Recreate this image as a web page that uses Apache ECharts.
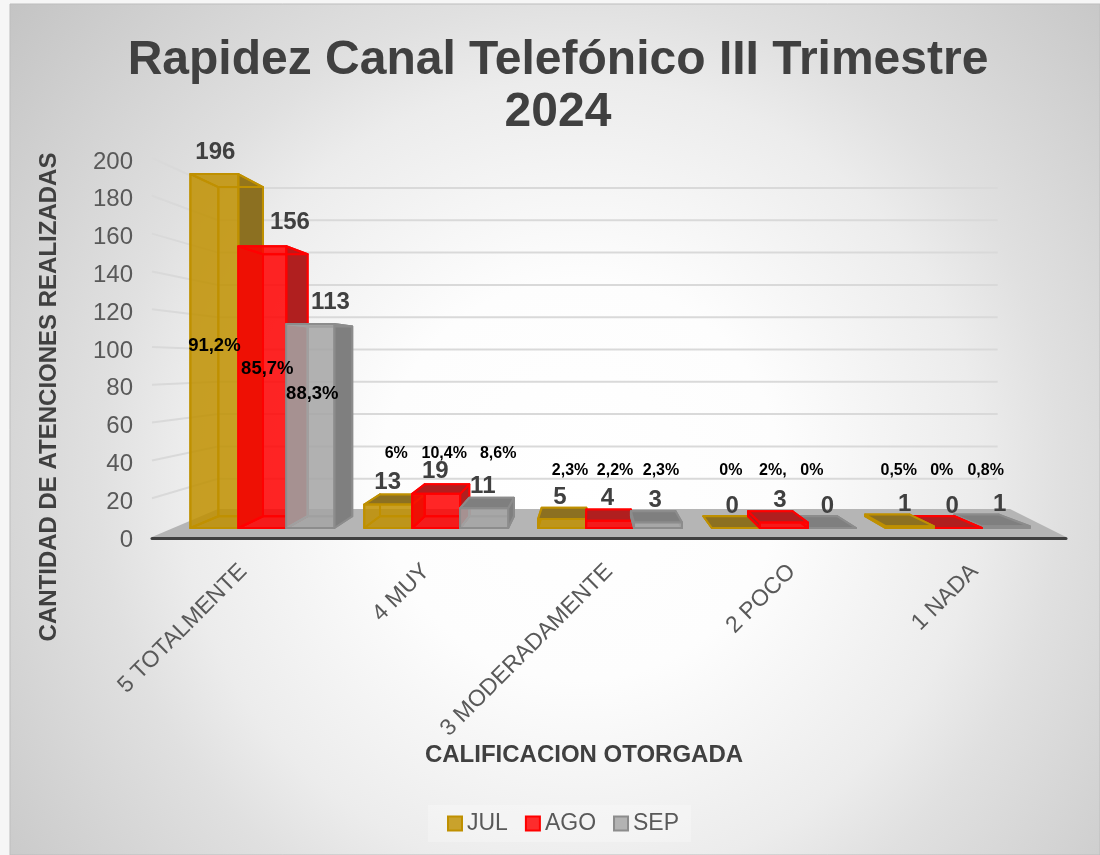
<!DOCTYPE html>
<html>
<head>
<meta charset="utf-8">
<title>Rapidez Canal Telefónico</title>
<style>
  html, body { margin: 0; padding: 0; background: #f6f6f6; }
  #chart { width: 1100px; height: 855px; }
</style>
<script src="https://cdn.jsdelivr.net/npm/echarts@6/dist/echarts.min.js"></script>
</head>
<body>
<div id="chart"></div>
<script>
const categories = ['5 TOTALMENTE', '4 MUY', '3 MODERADAMENTE', '2 POCO', '1 NADA']
const jul = [196, 13, 5, 0, 1]
const ago = [156, 19, 4, 3, 0]
const sep = [113, 11, 3, 0, 1]
const julPct = ['91,2%', '6%', '2,3%', '0%', '0,5%']
const agoPct = ['85,7%', '10,4%', '2,2%', '2%,', '0%']
const sepPct = ['88,3%', '8,6%', '2,3%', '0%', '0,8%']
const gridValues = [20, 40, 60, 80, 100, 120, 140, 160, 180, 200]

// where the hand placed labels sit: y is in axis units, x is px from the bar centre
const pctLabelY = [[102.6, 90.5, 77.2], [45.5, 45.5, 45.5], [36.5, 36.5, 36.5], [36.5, 36.5, 36.5], [36.5, 36.5, 36.5]]
const pctLabelDx = [[0, 5, 2], [8, 8, 14], [8, 5, 3], [-5, -11, -20], [-11, -16, -20]]
const valueLabelNudge = { '0-1': [27, -2], '0-2': [20, 0] }

const palette = [
  { name: 'JUL', values: jul, pct: julPct, face: 'rgba(191,144,0,0.82)', inner: 'rgba(191,144,0,0.18)', dark: '#8c7021', line: '#bf9000' },
  { name: 'AGO', values: ago, pct: agoPct, face: 'rgba(255,0,0,0.82)', inner: 'rgba(255,0,0,0.18)', dark: '#b01f1f', line: '#ff0000' },
  { name: 'SEP', values: sep, pct: sepPct, face: 'rgba(165,165,165,0.82)', inner: 'rgba(165,165,165,0.18)', dark: '#7f7f7f', line: '#8c8c8c' }
]

// fake 3D: the axes live on the front plane, bars stand a little behind it
const toBarPlane = ([x, y]) => [630 + 0.951 * (x - 630), 313 + 0.9556 * (y - 313)]
const toBarBack = ([x, y]) => [590 + 0.93 * (x - 590), 360 + 0.93 * (y - 360)]
const toWall = ([x, y]) => [601 + 0.853 * (x - 601), 511 - 0.8545 * (538 - y)]
const BAR_RATIO = 0.276

const barCorners = (api, seriesIndex) => {
  const cat = api.value(0)
  const value = api.value(1)
  const band = api.size([1, 0])[0]
  const w = band * BAR_RATIO
  const cx = api.coord([cat, 0])[0] + (seriesIndex - 1) * w
  const yTop = api.coord([cat, value])[1]
  const yBase = api.coord([cat, 0])[1]
  return {
    tl: toBarPlane([cx - w / 2, yTop]),
    tr: toBarPlane([cx + w / 2, yTop]),
    bl: toBarPlane([cx - w / 2, yBase]),
    br: toBarPlane([cx + w / 2, yBase]),
    cat,
    value
  }
}

const renderBar = (seriesIndex) => (params, api) => {
  const p = palette[seriesIndex]
  const c = barCorners(api, seriesIndex)
  const btl = toBarBack(c.tl)
  const btr = toBarBack(c.tr)
  const bbl = toBarBack(c.bl)
  const bbr = toBarBack(c.br)
  // right of the vanishing point the stacking flips, taller bars still win
  const z2 = c.cat >= 3 ? 2 - seriesIndex + c.value * 0.5 : seriesIndex
  const poly = (points, fill, stroke) => ({
    type: 'polygon',
    z2,
    shape: { points },
    style: { fill, stroke: stroke || p.line, lineWidth: 2, lineJoin: 'round' }
  })
  const rightOut = btr[0] > c.tr[0]
  const leftOut = btl[0] < c.tl[0]
  const topSeen = btl[1] < c.tl[1]
  return {
    type: 'group',
    children: [
      poly([btl, btr, bbr, bbl], p.inner),
      poly([c.bl, c.br, bbr, bbl], p.inner),
      poly([c.tl, btl, bbl, c.bl], leftOut ? p.dark : p.inner),
      poly([c.tr, btr, bbr, c.br], rightOut ? p.dark : p.inner),
      poly([c.tl, c.tr, btr, btl], topSeen ? p.dark : p.inner),
      poly([c.tl, c.tr, c.br, c.bl], p.face)
    ]
  }
}

const renderFloor = (params, api) => {
  const rect = params.coordSys
  const right = rect.x + rect.width
  const y = api.coord([0, 0])[1]
  const children = [{
    type: 'polygon',
    shape: { points: [[rect.x, y - 1], [right, y - 1], [right - 56, y - 29], [rect.x + 66, y - 29]] },
    style: { fill: '#b5b5b5' }
  }]
  return { type: 'group', children }
}

const renderGridLine = (params, api) => {
  const rect = params.coordSys
  const y = api.coord([0, api.value(0)])[1]
  const a = toWall([rect.x, y])
  const b = toWall([rect.x + rect.width, y])
  const style = { stroke: '#d9d9d9', lineWidth: 2, fill: 'none' }
  return {
    type: 'polyline',
    shape: { points: [[rect.x, y - 2], a, b] },
    style
  }
}

const labelRows = []
palette.forEach((p, s) => {
  p.values.forEach((v, c) => labelRows.push([c, v, s, pctLabelY[c][s]]))
})

const renderLabels = (params, api) => {
  const s = api.value(2)
  const cat = api.value(0)
  const value = api.value(1)
  const band = api.size([1, 0])[0]
  const w = band * BAR_RATIO
  const cx = api.coord([cat, 0])[0] + (s - 1) * w
  const front = toBarPlane([cx, api.coord([cat, value])[1]])
  const nudge = valueLabelNudge[cat + '-' + s] || [0, 0]
  const big = cat === 0
  return {
    type: 'group',
    children: [
      {
        type: 'text',
        style: {
          x: front[0] + 1 - (front[0] - 214) * 0.0088 + nudge[0],
          y: front[1] - 22 + nudge[1],
          text: String(value),
          align: 'center',
          verticalAlign: 'middle',
          fontFamily: 'Liberation Sans',
          fontWeight: 'bold',
          fontSize: 24,
          fill: '#404040'
        }
      },
      {
        type: 'text',
        style: {
          x: front[0] + pctLabelDx[cat][s],
          y: api.coord([cat, api.value(3)])[1] + 2,
          text: palette[s].pct[cat],
          align: 'center',
          verticalAlign: 'middle',
          fontFamily: 'Liberation Sans',
          fontWeight: 'bold',
          fontSize: big ? 18.5 : 16,
          fill: '#000000'
        }
      }
    ]
  }
}

const chart = echarts.init(document.getElementById('chart'))
chart.setOption({
  animation: false,
  backgroundColor: '#f6f6f6',
  textStyle: { fontFamily: 'Liberation Sans' },
  graphic: [{
    type: 'rect',
    z: -10,
    silent: true,
    shape: { x: 10, y: 4, width: 1090, height: 851 },
    style: {
      stroke: '#bdbdbd',
      lineWidth: 1,
      fill: {
        type: 'radial', x: 0.523, y: 0.559, r: 0.87,
        colorStops: [
          { offset: 0, color: '#ffffff' },
          { offset: 0.27, color: '#fdfdfd' },
          { offset: 0.54, color: '#ececec' },
          { offset: 0.65, color: '#e0e0e0' },
          { offset: 0.8, color: '#d4d4d4' },
          { offset: 1, color: '#c4c4c4' }
        ]
      }
    }
  }],
  title: {
    text: 'Rapidez Canal Telefónico III Trimestre\n2024',
    left: 553,
    top: 30,
    textAlign: 'center',
    textStyle: { fontSize: 48, fontWeight: 'bold', color: '#404040', lineHeight: 52, fontFamily: 'Liberation Sans' }
  },
  grid: { left: 152, right: 34, top: 160, bottom: 317 },
  legend: {
    data: ['JUL', 'AGO', 'SEP'],
    left: 428,
    top: 805,
    padding: [7, 12, 7, 19],
    backgroundColor: 'rgba(255,255,255,0.25)',
    icon: 'rect',
    itemWidth: 14,
    itemHeight: 14,
    itemGap: 17,
    textStyle: { fontSize: 23, color: '#595959', fontFamily: 'Liberation Sans' }
  },
  xAxis: {
    type: 'category',
    data: categories,
    name: 'CALIFICACION OTORGADA',
    nameLocation: 'middle',
    nameGap: 195,
    nameTextStyle: { fontSize: 24, fontWeight: 'bold', color: '#404040', padding: [0, 50, 0, 0] },
    axisLine: { lineStyle: { color: '#404040', width: 3 } },
    axisTick: { show: false },
    axisLabel: { interval: 0, rotate: 45, fontSize: 23, color: '#595959', margin: 30 }
  },
  yAxis: {
    type: 'value',
    min: 0,
    max: 200,
    interval: 20,
    name: 'CANTIDAD DE ATENCIONES REALIZADAS',
    nameLocation: 'middle',
    nameGap: 91,
    nameTextStyle: { fontSize: 24, fontWeight: 'bold', color: '#404040', padding: [0, 96, 0, 0] },
    axisLine: { show: false },
    axisTick: { show: false },
    splitLine: { show: false },
    axisLabel: {
      margin: 19,
      formatter: '{t|{value}}',
      rich: { t: { fontSize: 24, color: '#595959', padding: [4, 0, 0, 0] } }
    }
  },
  series: [
    { type: 'custom', name: 'grid', silent: true, z: 1, renderItem: renderGridLine, data: gridValues.map(v => [v]), encode: { y: 0 } },
    { type: 'custom', name: 'floor', silent: true, z: 1, renderItem: renderFloor, data: [[0]], encode: { y: 0 } },
    ...palette.map((p, i) => ({
      type: 'custom',
      name: p.name,
      z: 2,
      itemStyle: { color: p.face, borderColor: p.line, borderWidth: 2 },
      renderItem: renderBar(i),
      data: p.values.map((v, c) => [c, v]),
      encode: { x: 0, y: 1 }
    })),
    { type: 'custom', name: 'labels', silent: true, z: 3, renderItem: renderLabels, data: labelRows, encode: { x: 0, y: 1 } }
  ]
})
</script>
</body>
</html>
